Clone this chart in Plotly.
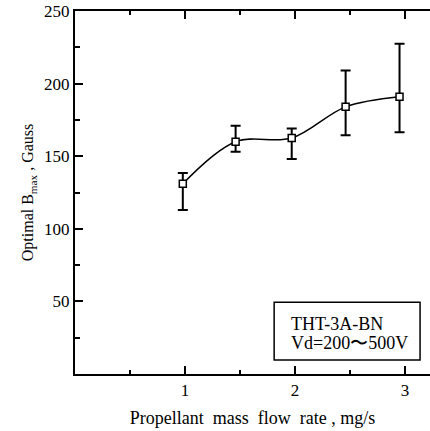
import plotly.graph_objects as go

# Data
flow_rate = [0.98, 1.46, 1.97, 2.46, 2.95]          # mg/s
b_opt = [131, 160, 162.5, 184, 191]                  # Gauss
err_plus = [7.5, 11, 6.5, 25, 36.5]
err_minus = [18, 7, 14.5, 19.5, 24.5]

x_ticks = [1, 2, 3]
y_ticks = [50, 100, 150, 200, 250]
legend_lines = ["THT-3A-BN", "Vd=200〜500V"]

fig = go.Figure()
fig.add_trace(go.Scatter(
    x=flow_rate, y=b_opt,
    mode="lines+markers",
    line=dict(color="black", width=1.5, shape="spline", smoothing=1.0),
    marker=dict(symbol="square", size=7, color="white",
                line=dict(color="black", width=1.5)),
    error_y=dict(type="data", symmetric=False, array=err_plus,
                 arrayminus=err_minus, color="black", thickness=2, width=5),
    showlegend=False,
))

serif = "Liberation Serif"
fig.update_layout(
    width=430, height=431,
    margin=dict(l=75, r=0, t=11, b=57),
    paper_bgcolor="white", plot_bgcolor="white",
    font=dict(family=serif, color="black", size=17),
    xaxis=dict(
        range=[0, 3.227], tickvals=x_ticks, ticktext=[str(v) for v in x_ticks],
        ticks="inside", ticklen=8, tickwidth=2, tickcolor="black",
        minor=dict(tickvals=[0.5, 1.5, 2.5], ticks="inside", ticklen=4,
                   tickwidth=2, tickcolor="black"),
        showline=True, linecolor="black", linewidth=2, mirror="ticks",
        showgrid=False, zeroline=False,
        tickfont=dict(family=serif, size=17),
        title=dict(text="Propellant  mass  flow  rate , mg/s",
                   font=dict(family=serif, size=18), standoff=12),
    ),
    yaxis=dict(
        range=[0, 250], tickvals=y_ticks, ticktext=[str(v) for v in y_ticks],
        ticks="inside", ticklen=8, tickwidth=2, tickcolor="black",
        minor=dict(tickvals=[25, 75, 125, 175, 225], ticks="inside", ticklen=5,
                   tickwidth=2, tickcolor="black"),
        showline=True, linecolor="black", linewidth=2, mirror=False,
        showgrid=False, zeroline=False,
        tickfont=dict(family=serif, size=17),
        title=dict(text="Optimal B<sub>max</sub> , Gauss",
                   font=dict(family=serif, size=16), standoff=6),
    ),
)

fig.add_shape(type="rect", xref="paper", yref="paper",
              x0=0.561, x1=0.972, y0=0.0386, y1=0.198,
              line=dict(color="black", width=1.5), fillcolor="white")
for line_text, ypos in zip(legend_lines, [0.138, 0.0854]):
    fig.add_annotation(xref="paper", yref="paper", x=0.603, y=ypos,
                       xanchor="left", yanchor="middle", align="left",
                       showarrow=False, text=line_text,
                       font=dict(family=serif, size=18, color="black"))

fig.write_html("out.html")
